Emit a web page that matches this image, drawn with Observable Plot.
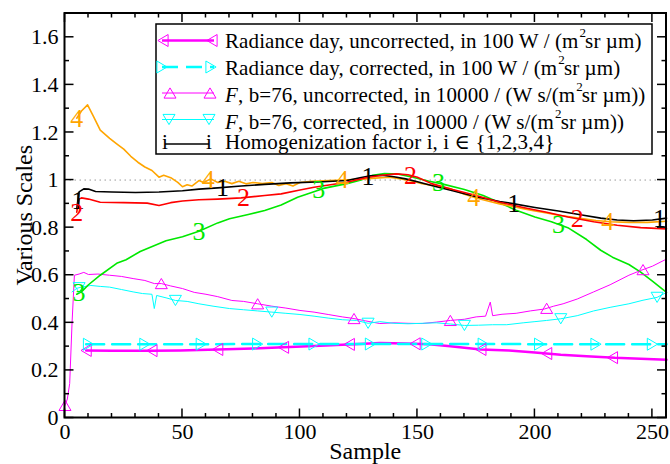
<!DOCTYPE html>
<html><head><meta charset="utf-8">
<script src="https://cdn.jsdelivr.net/npm/d3@7"></script>
<script src="https://cdn.jsdelivr.net/npm/@observablehq/plot@0.6"></script>
<style>body{margin:0;background:#fff}#chart{width:670px;height:464px}</style>
</head><body><div id="chart"></div>
<script>
// ---------- data ----------
const radianceUncorrected = [[9,0.284],[20,0.283],[37,0.283],[49,0.284],[65,0.288],[80,0.292],[93,0.297],[111,0.305],[125,0.311],[134,0.315],[145,0.313],[155,0.31],[164,0.302],[177,0.288],[189,0.284],[200,0.275],[211,0.266],[222,0.26],[234,0.253],[245,0.249],[256,0.245]];
const radianceCorrected = [[9,0.31],[130,0.311],[256,0.31]];
const fUncorrected = [[0,0.053],[1,0.08],[2,0.145],[3,0.4],[4,0.6],[6,0.605],[8,0.612],[10,0.603],[14,0.605],[19,0.6],[24,0.595],[29,0.586],[34,0.578],[38,0.565],[41,0.565],[45,0.555],[50,0.544],[55,0.528],[60,0.52],[65,0.51],[71,0.494],[76,0.49],[82,0.48],[88,0.47],[94,0.462],[100,0.452],[106,0.445],[112,0.435],[118,0.425],[123,0.418],[128,0.408],[134,0.397],[140,0.4],[146,0.398],[152,0.397],[158,0.403],[164,0.41],[170,0.415],[175,0.425],[179,0.428],[181,0.487],[182,0.43],[186,0.436],[192,0.44],[198,0.45],[204,0.458],[208,0.47],[212,0.48],[218,0.5],[225,0.53],[232,0.56],[240,0.6],[245,0.62],[250,0.638],[256,0.668]];
const fCorrected = [[3,0.53],[5,0.545],[7,0.55],[11,0.557],[15,0.553],[19,0.55],[24,0.54],[29,0.53],[33,0.523],[37,0.52],[38,0.46],[39,0.515],[43,0.505],[47,0.494],[52,0.49],[57,0.48],[63,0.47],[70,0.46],[76,0.455],[82,0.45],[88,0.445],[94,0.44],[100,0.435],[106,0.428],[112,0.42],[118,0.413],[124,0.41],[129,0.398],[134,0.405],[140,0.398],[146,0.396],[152,0.398],[158,0.4],[164,0.395],[170,0.389],[176,0.39],[182,0.392],[188,0.392],[195,0.4],[200,0.405],[205,0.41],[211,0.417],[218,0.43],[225,0.45],[232,0.465],[240,0.48],[246,0.495],[252,0.507],[256,0.528]];
const homog1 = [[5,0.88],[6,0.95],[8,0.963],[10,0.962],[13,0.952],[20,0.95],[30,0.948],[40,0.95],[50,0.955],[57,0.962],[65,0.967],[75,0.975],[85,0.982],[96,0.988],[110,0.993],[120,0.998],[125,1.008],[130,1.018],[135,1.02],[140,1.014],[145,1.005],[150,0.993],[156,0.977],[165,0.955],[175,0.93],[185,0.91],[190,0.902],[200,0.885],[210,0.87],[220,0.853],[228,0.84],[235,0.832],[242,0.829],[250,0.832],[256,0.84]];
const homog2 = [[5,0.865],[6,0.92],[7,0.925],[10,0.92],[15,0.907],[25,0.905],[35,0.903],[40,0.893],[45,0.905],[50,0.912],[57,0.917],[65,0.92],[75,0.925],[85,0.935],[92,0.942],[100,0.958],[106,0.97],[113,0.98],[120,0.991],[128,1.01],[135,1.02],[141,1.026],[146,1.022],[150,1.012],[156,0.985],[165,0.96],[175,0.935],[185,0.907],[195,0.885],[205,0.865],[214,0.845],[225,0.825],[235,0.81],[245,0.8],[256,0.795]];
const homog3 = [[5,0.52],[7,0.53],[10,0.56],[15,0.6],[22,0.65],[26,0.665],[32,0.7],[43,0.745],[50,0.762],[57,0.785],[65,0.82],[70,0.837],[78,0.855],[85,0.872],[92,0.895],[99,0.928],[105,0.948],[110,0.965],[120,0.985],[126,1.0],[131,1.02],[136,1.027],[142,1.025],[148,1.012],[155,0.995],[160,0.985],[170,0.96],[178,0.935],[185,0.905],[192,0.873],[200,0.845],[207,0.825],[214,0.8],[222,0.75],[228,0.705],[233,0.676],[240,0.645],[245,0.613],[250,0.575],[256,0.528]];
const homog4 = [[5,1.26],[7,1.29],[9.6,1.316],[12,1.27],[15,1.21],[19,1.175],[22,1.152],[25,1.13],[28,1.1],[31,1.075],[34,1.055],[37,1.04],[40,1.012],[42,1.02],[45,1.01],[48,0.99],[50,0.972],[52,0.98],[54,0.975],[57,0.998],[59,0.99],[62,1.005],[65,0.99],[68,0.995],[71,0.985],[74,0.995],[77,0.984],[80,0.99],[84,0.985],[88,0.99],[91,0.977],[94,0.985],[97,0.975],[100,0.99],[105,0.995],[110,0.997],[118,1.0],[125,1.003],[132,1.008],[138,1.012],[143,1.005],[148,0.995],[152,0.985],[158,0.975],[164,0.963],[170,0.94],[175,0.925],[180,0.912],[185,0.9],[190,0.89],[195,0.88],[200,0.87],[205,0.862],[210,0.852],[214,0.847],[220,0.838],[226,0.83],[232,0.825],[240,0.822],[248,0.822],[256,0.827]];

const radUncMarkX = [9,37,65,93,121,149,177,205,233];
const radCorMarkX = [10,34,58,82,106,130,154,178,202,226,250];
const fUncMarkX = [0,41,82,123,164,205,246];
const fCorMarkX = [6,47,88,129,170,211,252];
const label1X = [5.5,67,129,191,253];
const label2X = [5,76,147,218];
const label3X = [6,57,108,159,210];
const label4X = [5,61,118,174,231];

const refLine = [1];
const xTicks = [0,50,100,150,200,250];
const yTicks = [0,0.2,0.4,0.6,0.8,1,1.2,1.4,1.6];
const xMinor = d3.range(0,257,10);
const yMinor = d3.range(0,1.71,0.1);
const xDomain = [0,256];
const yDomain = [0,1.7];

const legendLabels = [
  ["Radiance day, uncorrected, in 100 W / (m", "2", "sr µm)"],
  ["Radiance day, corrected, in 100 W / (m", "2", "sr µm)"],
  ["F", ", b=76, uncorrected, in 10000 / (W s/(m", "2", "sr µm))"],
  ["F", ", b=76, corrected, in 10000 / (W s/(m", "2", "sr µm))"],
  ["Homogenization factor i, i ∈ {1,2,3,4}"]
];
const xTitle = "Sample";
const yTitle = "Various Scales";

// ---------- helpers ----------
const MAG = "#ff00ff", CYA = "#00ffff", RED = "#ff0000", GRN = "#00e800", ORG = "#ffa500", BLK = "#000000";
const FONT = "Liberation Serif, DejaVu Serif, Noto Serif, Times New Roman, serif";
const pts = a => a.map(([x,y]) => ({x,y}));
function interp(a, x){
  if (x <= a[0][0]) return a[0][1];
  for (let i=1;i<a.length;i++){
    if (x <= a[i][0]){ const [x0,y0]=a[i-1],[x1,y1]=a[i]; return y0+(y1-y0)*(x-x0)/(x1-x0); }
  }
  return a[a.length-1][1];
}
const at = (a, xs) => xs.map(x => ({x, y: interp(a, x)}));
function tri(angleDeg){
  const a = angleDeg*Math.PI/180, c=Math.cos(a), s=Math.sin(a);
  const base = [[0,-0.85],[1,0.85],[-1,0.85]];
  return {draw(ctx, size){
    const r = Math.sqrt(size/Math.PI);
    base.forEach(([x,y],i)=>{ const X=(x*c-y*s)*r, Y=(x*s+y*c)*r; i?ctx.lineTo(X,Y):ctx.moveTo(X,Y); });
    ctx.closePath();
  }};
}
const triUp = tri(0), triDown = tri(180), triLeft = tri(-90), triRight = tri(90);

const lineW = {homog: 1.6, f: 1, rad: 2.5};
const labelFont = 26;

const plot = Plot.plot({
  width: 670, height: 464,
  marginLeft: 64.5, marginRight: 4, marginTop: 13, marginBottom: 46.5,
  style: {fontFamily: FONT, background: "white", color: "black"},
  x: {domain: xDomain},
  y: {domain: yDomain},
  marks: [
    Plot.ruleY(refLine, {stroke: "#999", strokeDasharray: "1.5,3.5", strokeWidth: 1}),
    Plot.line(pts(fUncorrected), {x:"x", y:"y", stroke: MAG, strokeWidth: lineW.f}),
    Plot.line(pts(fCorrected), {x:"x", y:"y", stroke: CYA, strokeWidth: lineW.f}),
    Plot.line(pts(homog3), {x:"x", y:"y", stroke: GRN, strokeWidth: lineW.homog}),
    Plot.line(pts(homog4), {x:"x", y:"y", stroke: ORG, strokeWidth: lineW.homog}),
    Plot.line(pts(homog1), {x:"x", y:"y", stroke: BLK, strokeWidth: lineW.homog}),
    Plot.line(pts(homog2), {x:"x", y:"y", stroke: RED, strokeWidth: lineW.homog}),
    Plot.line(pts(radianceUncorrected), {x:"x", y:"y", stroke: MAG, strokeWidth: lineW.rad}),
    Plot.line(pts(radianceCorrected), {x:"x", y:"y", stroke: CYA, strokeWidth: lineW.rad, strokeDasharray: "18,8"}),
    Plot.dot(at(fUncorrected, fUncMarkX), {x:"x", y:"y", symbol: triUp, r: 6, stroke: MAG, fill: "none", strokeWidth: 1}),
    Plot.dot(at(fCorrected, fCorMarkX), {x:"x", y:"y", symbol: triDown, r: 6, stroke: CYA, fill: "none", strokeWidth: 1}),
    Plot.dot(at(radianceUncorrected, radUncMarkX), {x:"x", y:"y", symbol: triLeft, r: 6, stroke: MAG, fill: "none", strokeWidth: 1}),
    Plot.dot(at(radianceCorrected, radCorMarkX), {x:"x", y:"y", symbol: triRight, r: 6, stroke: CYA, fill: "none", strokeWidth: 1}),
    Plot.text(at(homog1, label1X), {x:"x", y:"y", text: () => "1", fill: BLK, fontSize: labelFont, lineAnchor: "middle", fontFamily: FONT}),
    Plot.text(at(homog2, label2X), {x:"x", y:"y", text: () => "2", fill: RED, fontSize: labelFont, lineAnchor: "middle", fontFamily: FONT}),
    Plot.text(at(homog3, label3X), {x:"x", y:"y", text: () => "3", fill: GRN, fontSize: labelFont, lineAnchor: "middle", fontFamily: FONT}),
    Plot.text(at(homog4, label4X), {x:"x", y:"y", text: () => "4", fill: ORG, fontSize: labelFont, lineAnchor: "middle", fontFamily: FONT}),
    Plot.axisX({ticks: xTicks, tickSize: 0, tickPadding: 5, label: null, fontSize: 22, fontFamily: FONT, tickFormat: d => String(d)}),
    Plot.axisY({ticks: yTicks, tickSize: 0, tickPadding: 6.5, label: null, fontSize: 22, fontFamily: FONT, tickFormat: d => String(+d.toFixed(1))})
  ]
});
document.getElementById("chart").appendChild(plot);

// ---------- frame, inward ticks, titles, legend ----------
const svg = d3.select(plot);
svg.attr("font-family", FONT).style("font-family", FONT);
const sx = plot.scale("x"), sy = plot.scale("y");
const X = v => sx.apply(v), Y = v => sy.apply(v);
const L = X(xDomain[0]), R = X(xDomain[1]), B = Y(yDomain[0]), T = Y(yDomain[1]);
const g = svg.append("g").attr("stroke", "black").attr("fill", "none");
const isMajorX = v => xTicks.some(t => Math.abs(t-v) < 1e-6);
const isMajorY = v => yTicks.some(t => Math.abs(t-v) < 1e-6);
xMinor.forEach(v => {
  const len = isMajorX(v) ? 9 : 4.5, px = X(v);
  g.append("line").attr("x1", px).attr("x2", px).attr("y1", B).attr("y2", B-len).attr("stroke-width", 1.5);
  g.append("line").attr("x1", px).attr("x2", px).attr("y1", T).attr("y2", T+len).attr("stroke-width", 1.5);
});
yMinor.forEach(v => {
  const len = isMajorY(v) ? 9 : 4.5, py = Y(v);
  g.append("line").attr("y1", py).attr("y2", py).attr("x1", L).attr("x2", L+len).attr("stroke-width", 1.5);
  g.append("line").attr("y1", py).attr("y2", py).attr("x1", R).attr("x2", R-len).attr("stroke-width", 1.5);
});
g.append("rect").attr("x", L).attr("y", T).attr("width", R-L).attr("height", B-T).attr("stroke-width", 2);

const txt = (sel) => sel.attr("font-family", FONT).style("font-family", FONT).attr("fill", "black");
txt(svg.append("text").attr("x", (L+R)/2).attr("y", 459).attr("text-anchor", "middle").attr("font-size", 24)).text(xTitle);
txt(svg.append("text").attr("transform", `translate(32,${(T+B)/2}) rotate(-90)`).attr("text-anchor", "middle").attr("font-size", 24)).text(yTitle);

// legend
const lg = svg.append("g");
lg.append("rect").attr("x", 156).attr("y", 24).attr("width", 496).attr("height", 130)
  .attr("fill", "white").attr("stroke", "black").attr("stroke-width", 1.5);
const rows = [
  {base: 47.5, ly: 40.5, color: MAG, w: 2.5, dash: null, sym: triLeft, sx: [163, 212], x1: 162, x2: 214},
  {base: 75, ly: 67, color: CYA, w: 2.5, dash: "16,8", sym: triRight, sx: [162, 211], x1: 162, x2: 214},
  {base: 101.5, ly: 93, color: MAG, w: 1, dash: null, sym: triUp, sx: [170, 210], x1: 162, x2: 214},
  {base: 128.5, ly: 119.5, color: CYA, w: 1, dash: null, sym: triDown, sx: [169, 209], x1: 162, x2: 214},
  {base: 148.5, ly: 144, color: BLK, w: 1.5, dash: null, sym: null, sx: [165, 209], x1: 165, x2: 209}
];
const symPath = d3.symbol().size(Math.PI*36);
rows.forEach((r, i) => {
  const ln = lg.append("line").attr("x1", r.x1).attr("x2", r.x2).attr("y1", r.ly).attr("y2", r.ly)
    .attr("stroke", r.color).attr("stroke-width", r.w);
  if (r.dash) ln.attr("stroke-dasharray", r.dash);
  r.sx.forEach(px => {
    if (r.sym) lg.append("path").attr("d", symPath.type(r.sym)()).attr("transform", `translate(${px},${r.ly})`)
      .attr("fill", "none").attr("stroke", r.color).attr("stroke-width", 1);
    else txt(lg.append("text").attr("x", px).attr("y", r.base).attr("text-anchor", "middle").attr("font-size", 21)).text("i");
  });
  const t = txt(lg.append("text").attr("x", 225).attr("y", r.base).attr("text-anchor", "start")
    .attr("font-size", 21).attr("letter-spacing", 0.1));
  const parts = legendLabels[i];
  parts.forEach((p, k) => {
    if (p === "F" && k === 0) t.append("tspan").attr("font-style", "italic").text(p);
    else if (p === "2") t.append("tspan").attr("font-size", 13).attr("dy", -11).attr("dx", 1).text(p);
    else if (k > 0 && parts[k-1] === "2") t.append("tspan").attr("dy", 11).attr("dx", -1).text(p);
    else t.append("tspan").text(p);
  });
});
</script>
</body></html>
